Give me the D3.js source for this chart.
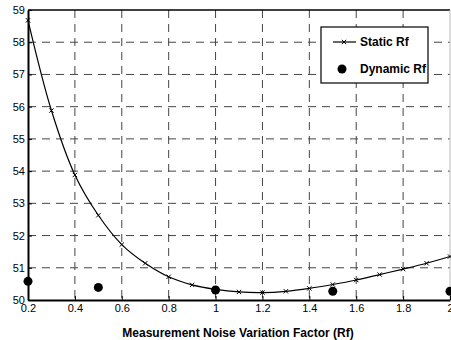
<!DOCTYPE html>
<html><head><meta charset="utf-8">
<script src="https://cdn.jsdelivr.net/npm/d3@7"></script>
<style>body{margin:0;background:#fff}svg{display:block}text{font-family:"Liberation Sans",Arial,sans-serif}</style>
</head><body><svg id="c" width="451" height="340"></svg>
<script>
const staticX = [0.2,0.3,0.4,0.5,0.6,0.7,0.8,0.9,1.0,1.1,1.2,1.3,1.4,1.5,1.6,1.7,1.8,1.9,2.0];
const staticY = [58.68,55.88,53.88,52.63,51.72,51.14,50.72,50.47,50.33,50.25,50.23,50.27,50.36,50.48,50.62,50.79,50.96,51.14,51.35];
const dynamicX = [0.2,0.5,1.0,1.5,2.0];
const dynamicY = [50.58,50.39,50.31,50.27,50.27];
const xTicks = [0.2,0.4,0.6,0.8,1,1.2,1.4,1.6,1.8,2];
const yTicks = [50,51,52,53,54,55,56,57,58,59];
const xLabel = "Measurement Noise Variation Factor (Rf)";
const legendLabels = ["Static Rf","Dynamic Rf"];

const svg = d3.select("#c");
const L=28, R=450, T=10, B=300;
const x = d3.scaleLinear().domain([0.2,2]).range([L,R]);
const y = d3.scaleLinear().domain([50,59]).range([B,T]);

// grid
const g = svg.append("g");
g.selectAll("line.vg").data(xTicks.slice(1,-1)).enter().append("line")
 .attr("x1",d=>x(d)).attr("x2",d=>x(d)).attr("y1",T).attr("y2",B)
 .attr("stroke","#444").attr("stroke-width",1).attr("stroke-dasharray","8,6");
g.selectAll("line.hg").data(yTicks.slice(1,-1)).enter().append("line")
 .attr("x1",L).attr("x2",R).attr("y1",d=>y(d)).attr("y2",d=>y(d))
 .attr("stroke","#444").attr("stroke-width",1).attr("stroke-dasharray","8,6");

// frame
svg.append("line").attr("x1",L).attr("x2",R).attr("y1",T).attr("y2",T).attr("stroke","#000").attr("stroke-width",1.5);
svg.append("line").attr("x1",R).attr("x2",R).attr("y1",T).attr("y2",B).attr("stroke","#bbb").attr("stroke-width",1);

// axes
const xa = svg.append("g").attr("transform",`translate(0,${B})`)
 .call(d3.axisBottom(x).tickValues(xTicks).tickFormat(d3.format("~g")).tickSizeInner(-4).tickSizeOuter(0).tickPadding(4));
const ya = svg.append("g").attr("transform",`translate(${L},0)`)
 .call(d3.axisLeft(y).tickValues(yTicks).tickSizeInner(-4).tickSizeOuter(0).tickPadding(3));
[xa,ya].forEach(a=>{
  a.select(".domain").attr("stroke","#000").attr("stroke-width",2);
  a.selectAll(".tick line").attr("stroke","#000");
  a.selectAll("text").attr("font-size",11).attr("fill","#000").attr("font-family","Liberation Sans, Arial, sans-serif");
});

// static line
const line = d3.line().x((d,i)=>x(staticX[i])).y(d=>y(d)).curve(d3.curveCatmullRom.alpha(0.5));
svg.append("path").datum(staticY).attr("d",line).attr("fill","none").attr("stroke","#000").attr("stroke-width",1.2);
const cross = d3.symbol().type(d3.symbolX).size(14);
svg.selectAll("path.m").data(staticY).enter().append("path")
 .attr("transform",(d,i)=>`translate(${x(staticX[i])},${y(d)})`).attr("d",cross)
 .attr("fill","none").attr("stroke","#000").attr("stroke-width",1);

// dynamic points
svg.selectAll("circle.dyn").data(dynamicY).enter().append("circle")
 .attr("cx",(d,i)=>x(dynamicX[i])).attr("cy",d=>y(d)).attr("r",4.5).attr("fill","#000");

// legend
const lg = svg.append("g");
lg.append("rect").attr("x",321).attr("y",27).attr("width",107).attr("height",56).attr("fill","#fff").attr("stroke","#000").attr("stroke-width",1.2);
lg.append("line").attr("x1",333).attr("x2",356).attr("y1",42).attr("y2",42).attr("stroke","#000").attr("stroke-width",1.2);
lg.append("path").attr("transform","translate(344,42)").attr("d",cross).attr("fill","none").attr("stroke","#000");
lg.append("circle").attr("cx",342).attr("cy",69).attr("r",4.5).attr("fill","#000");
lg.selectAll("text").data(legendLabels).enter().append("text")
 .attr("x",360).attr("y",(d,i)=>i?73:46).attr("font-size",12).attr("font-weight","bold").text(d=>d);

// x label
svg.append("text").attr("x",238).attr("y",337).attr("text-anchor","middle")
 .attr("font-size",12).attr("font-weight","bold").text(xLabel);
</script></body></html>
